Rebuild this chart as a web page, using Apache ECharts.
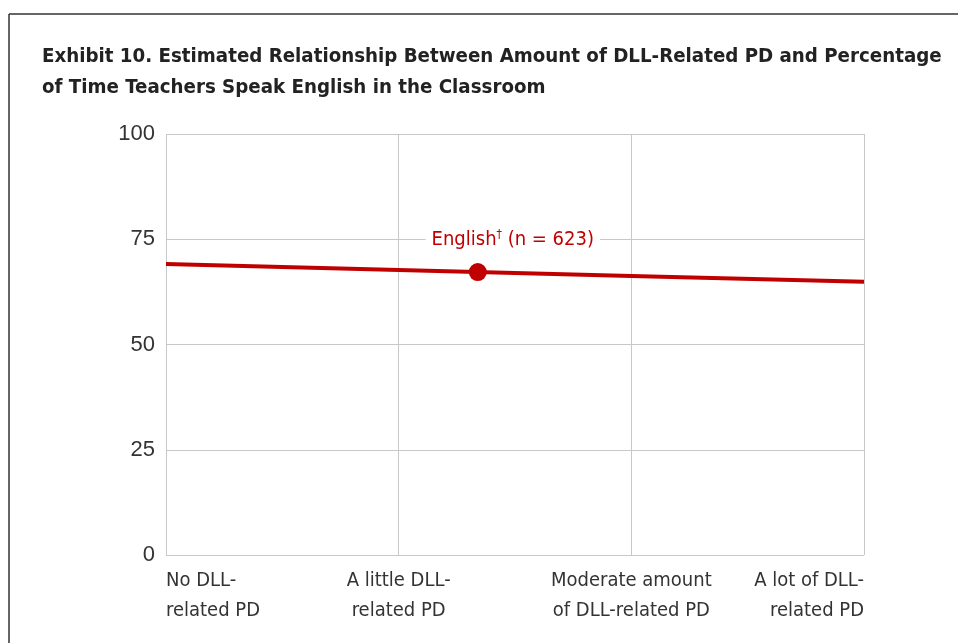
<!DOCTYPE html>
<html>
<head>
<meta charset="utf-8">
<script src="https://cdn.jsdelivr.net/npm/echarts@6/dist/echarts.min.js"></script>
<style>
html, body { margin: 0; padding: 0; background: #fff; }
#chart { width: 958px; height: 643px; }
</style>
</head>
<body>
<div id="chart"></div>
<script>
// x categories (amount of DLL-related PD)
var pdLabels = ["No DLL-\nrelated PD", "A little DLL-\nrelated PD", "Moderate amount\nof DLL-related PD", "A lot of DLL-\nrelated PD"];
var pdLevels = [0, 1, 2, 3];
// estimated % of time teachers speak English
var englishPct = [69.1, 67.7, 66.3, 64.9];
// highlighted point (sample mean)
var meanPoint = [1.34, 67.2];
var yTicks = [0, 25, 50, 75, 100];

var red = "#c00000";
var narrow = "'Liberation Sans Narrow', 'DejaVu Sans Condensed', sans-serif";

var lineData = [];
for (var i = 0; i < pdLevels.length; i++) {
    lineData.push([pdLevels[i], englishPct[i]]);
}

var chart = echarts.init(document.getElementById("chart"));
var option = {
    backgroundColor: "#fff",
    animation: false,
    title: {
        text: "Exhibit 10. Estimated Relationship Between Amount of DLL-Related PD and Percentage\nof Time Teachers Speak English in the Classroom",
        left: 42,
        top: 41,
        padding: 0,
        textStyle: {
            fontFamily: narrow,
            fontWeight: "bold",
            fontSize: 20.3,
            lineHeight: 31,
            color: "#222"
        }
    },
    grid: {left: 166, right: 94, top: 134, bottom: 88},
    xAxis: {
        type: "value",
        min: 0,
        max: 3,
        interval: 1,
        axisLine: {show: false},
        axisTick: {show: false},
        splitLine: {show: true, lineStyle: {color: "#c8c8c8", width: 1}},
        axisLabel: {
            margin: 11,
            alignMinLabel: "left",
            alignMaxLabel: "right",
            fontFamily: narrow,
            fontSize: 20,
            lineHeight: 30,
            color: "#333",
            verticalAlign: "top",
            formatter: function (v) {
                return pdLabels[Math.round(v)];
            }
        }
    },
    yAxis: {
        type: "value",
        min: yTicks[0],
        max: yTicks[yTicks.length - 1],
        interval: 25,
        axisLine: {show: false},
        axisTick: {show: false},
        splitLine: {show: true, lineStyle: {color: "#c8c8c8", width: 1}},
        axisLabel: {
            margin: 11,
            fontFamily: "'Liberation Sans', Arial, sans-serif",
            fontSize: 22,
            color: "#333"
        }
    },
    series: [
        {
            type: "line",
            data: lineData,
            showSymbol: false,
            lineStyle: {color: red, width: 4},
            z: 3
        },
        {
            type: "scatter",
            data: [meanPoint],
            symbolSize: 18,
            itemStyle: {color: red, opacity: 1},
            z: 4,
            label: {
                show: true,
                position: "top",
                distance: 13,
                formatter: "English{sup|\u2020} (n = 623)",
                fontFamily: narrow,
                fontSize: 20,
                color: red,
                backgroundColor: "#fff",
                padding: [0, 6],
                offset: [35, 0],
                rich: {
                    sup: {fontFamily: narrow, fontSize: 12, color: red, padding: [0, 0, 9, 0]}
                }
            }
        }
    ],
    graphic: [
        {type: "line", shape: {x1: 9, y1: 14, x2: 958, y2: 14}, style: {stroke: "#333", lineWidth: 1.5}},
        {type: "line", shape: {x1: 9, y1: 14, x2: 9, y2: 643}, style: {stroke: "#333", lineWidth: 1.5}}
    ]
};
chart.setOption(option);
</script>
</body>
</html>
